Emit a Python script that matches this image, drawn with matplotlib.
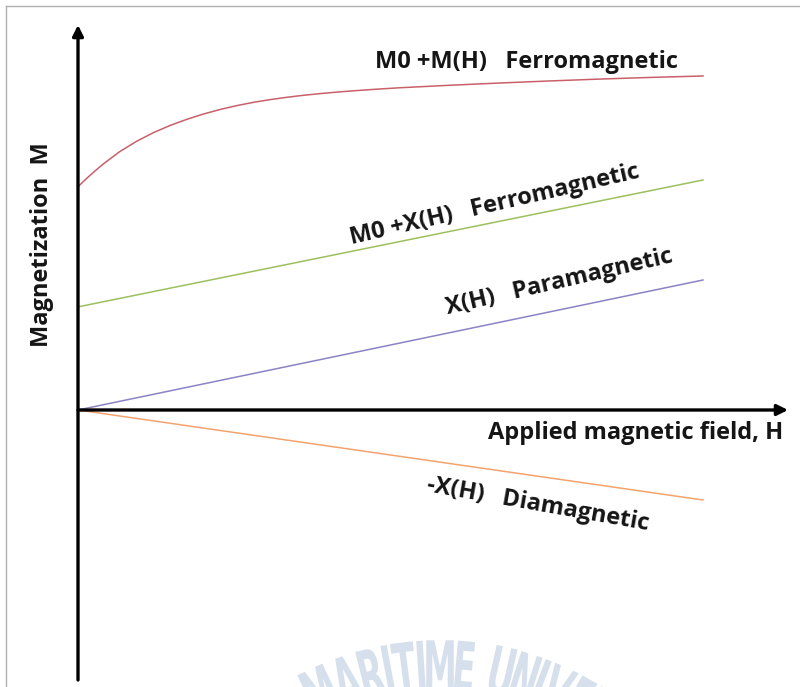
import numpy as np
import matplotlib
matplotlib.use("Agg")
import matplotlib.pyplot as plt
from matplotlib.lines import Line2D
from matplotlib.textpath import TextPath
from matplotlib.font_manager import FontProperties
from matplotlib.patches import PathPatch
from matplotlib.transforms import Affine2D

# curve data (H and M in arbitrary units)
h_ferro = [0, 0.139, 0.272, 0.405, 0.672, 0.939, 1.205, 1.472, 1.739, 2.005,
           2.272, 2.539, 2.805, 3.072, 3.339, 3.605, 3.872, 4.139, 4.405,
           4.672, 4.939, 5.152, 5.952, 6.752, 7.552, 8.352, 9.152, 10.0]
m_ferro = [3.573, 3.706, 3.825, 3.937, 4.137, 4.300, 4.437, 4.552, 4.650,
           4.735, 4.808, 4.870, 4.922, 4.966, 5.003, 5.035, 5.062, 5.086,
           5.107, 5.126, 5.143, 5.156, 5.196, 5.232, 5.265, 5.295, 5.321,
           5.344]
h_line = [0, 10.0]
m_ferro_lin = [1.65, 3.68]
m_para = [0, 2.08]
m_dia = [0, -1.44]

labels = ["M0 +M(H)   Ferromagnetic", "M0 +X(H)   Ferromagnetic",
          "X(H)   Paramagnetic", "-X(H)   Diamagnetic"]
x_label = "Applied magnetic field, H"
y_label = "Magnetization  M"
watermark = "MARITIME UNIVERSITY"

fig = plt.figure(figsize=(8, 6.87), dpi=100)

# overlay in pixel units, only for the faint watermark
bg = fig.add_axes([0, 0, 1, 1])
bg.axis("off")
bg.set_xlim(0, 800)
bg.set_ylim(687, 0)

wm_prop = FontProperties(family="DejaVu Sans", weight="bold")
sx, size, gap = 0.5, 68, 2
paths, widths = [], []
for ch in watermark:
    if ch == " ":
        paths.append(None)
        widths.append(14)
        continue
    tp = TextPath((0, 0), ch, size=size, prop=wm_prop)
    ext = tp.get_extents()
    tp = Affine2D().translate(-(ext.x0 + ext.x1) / 2,
                              -(ext.y0 + ext.y1) / 2).scale(sx, -1).transform_path(tp)
    paths.append(tp)
    widths.append((ext.x1 - ext.x0) * sx)

anchor = 6  # second "M" sits on top of the arc
s = [0.0] * len(watermark)
for i in range(anchor + 1, len(watermark)):
    s[i] = s[i - 1] + widths[i - 1] / 2 + gap + widths[i] / 2
for i in range(anchor - 1, -1, -1):
    s[i] = s[i + 1] - widths[i + 1] / 2 - gap - widths[i] / 2
cx, cy, R = 440, 945, 280
for p, si in zip(paths, s):
    if p is None:
        continue
    th = si / R
    px = cx + R * np.sin(th)
    py = cy - R * np.cos(th)
    tr = Affine2D().rotate(th).translate(px, py)
    bg.add_patch(PathPatch(tr.transform_path(p), color="#d6e0ec", lw=0))

ax = fig.add_axes([0, 0, 1, 1])
ax.axis("off")
ax.patch.set_alpha(0)
ax.set_xlim(-1.248, 11.552)
ax.set_ylim(-4.432, 6.56)

# frame (only top and left edges are visible in the source)
fig.add_artist(Line2D([0.0075, 0.0075], [0, 0.9913], color="#b0b0b0", lw=1))
fig.add_artist(Line2D([0.0075, 1], [0.9913, 0.9913], color="#b0b0b0", lw=1))

# curves
ax.plot(h_ferro, m_ferro, color="#c8606a", lw=1.1)
ax.plot(h_line, m_ferro_lin, color="#9dc05e", lw=1.1)
ax.plot(h_line, m_para, color="#8a84c4", lw=1.1)
ax.plot(h_line, m_dia, color="#f2a36e", lw=1.1)

# axes arrows
arr = dict(arrowstyle="-|>", lw=2.4, color="black", mutation_scale=16,
           shrinkA=0, shrinkB=0)
ax.annotate("", xy=(11.36, 0), xytext=(0, 0), arrowprops=arr)
ax.annotate("", xy=(0, 6.16), xytext=(0, -4.32), arrowprops=arr)

font = dict(family=["Open Sans", "DejaVu Sans"], weight="bold",
            color="#151515", fontsize=17)
ax.text(7.17, 5.57, labels[0], ha="center", va="center", **font)
ax.text(6.67, 3.28, labels[1], ha="center", va="center", rotation=13,
        rotation_mode="anchor", **font)
ax.text(7.71, 2.05, labels[2], ha="center", va="center", rotation=13,
        rotation_mode="anchor", **font)
ax.text(7.36, -1.52, labels[3], ha="center", va="center", rotation=-10,
        rotation_mode="anchor", **font)
ax.text(8.93, -0.37, x_label, ha="center", va="center", **font)
ax.text(-0.58, 2.64, y_label, ha="center", va="center", rotation=90, **font)

fig.savefig("out.png", dpi=100)
